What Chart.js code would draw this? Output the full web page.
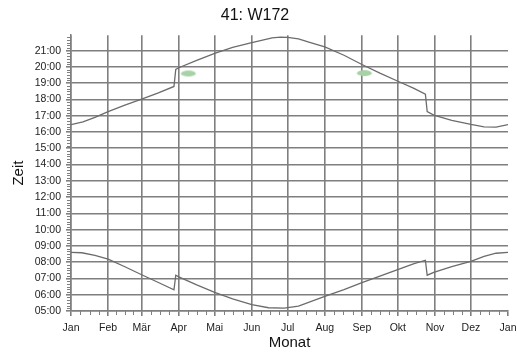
<!DOCTYPE html>
<html>
<head>
<meta charset="utf-8">
<script src="https://cdn.jsdelivr.net/npm/chart.js@4"></script>
<style>
html, body { margin: 0; padding: 0; background: #fff; }
</style>
</head>
<body>
<canvas id="sunChart" width="517" height="352"></canvas>
<script>
// month starts as day of year, with labels
const monthStarts = [0, 31, 59, 90, 120, 151, 181, 212, 243, 273, 304, 334, 365];
const monthLabels = ['Jan', 'Feb', 'Mär', 'Apr', 'Mai', 'Jun', 'Jul', 'Aug', 'Sep', 'Okt', 'Nov', 'Dez', 'Jan'];
const hourTicks = [5, 6, 7, 8, 9, 10, 11, 12, 13, 14, 15, 16, 17, 18, 19, 20, 21];

// sunset (upper curve), hours as decimals
const sunsetDays  = [0, 10, 20, 31, 45, 59, 73, 86, 87.5, 90, 105, 120, 135, 151, 160, 168, 175, 181, 190, 200, 212, 228, 243, 258, 274, 286, 296, 297.5, 303, 318, 334, 345, 355, 365];
const sunsetHours = [16.45, 16.62, 16.9, 17.25, 17.65, 18.02, 18.4, 18.8, 19.85, 19.95, 20.4, 20.83, 21.2, 21.5, 21.65, 21.78, 21.83, 21.82, 21.72, 21.5, 21.23, 20.72, 20.15, 19.62, 19.09, 18.7, 18.33, 17.25, 17.04, 16.72, 16.47, 16.32, 16.3, 16.45];

// sunrise (lower curve)
const sunriseDays  = [0, 9, 20, 31, 45, 59, 73, 86, 87.5, 90, 105, 120, 135, 151, 165, 178, 190, 212, 228, 243, 258, 274, 286, 296, 297.5, 303, 318, 334, 345, 355, 365];
const sunriseHours = [8.6, 8.58, 8.42, 8.19, 7.72, 7.23, 6.75, 6.3, 7.2, 7.1, 6.6, 6.14, 5.75, 5.39, 5.2, 5.18, 5.3, 5.9, 6.32, 6.75, 7.15, 7.58, 7.9, 8.12, 7.2, 7.37, 7.72, 8.05, 8.35, 8.55, 8.6];

// the two green blobs
const markerDays  = [98, 245];
const markerHours = [19.6, 19.62];

const gridGray = '#7f7f7f';

function toPoints(xs, ys) {
    return xs.map((d, i) => ({ x: d, y: ys[i] }));
}

// soft green ellipse used as point style
const blob = document.createElement('canvas');
blob.width = 18;
blob.height = 8;
const bctx = blob.getContext('2d');
bctx.filter = 'blur(0.7px)';
bctx.fillStyle = '#a6d2a6';
bctx.beginPath();
bctx.ellipse(9, 4, 7.5, 3, 0, 0, Math.PI * 2);
bctx.fill();

// small ticks between months and every 10 minutes
const minorTicks = {
    id: 'minorTicks',
    afterDraw(chart) {
        const { ctx, scales: { x, y } } = chart;
        ctx.save();
        ctx.strokeStyle = gridGray;
        ctx.lineWidth = 1;
        ctx.beginPath();
        for (let m = 0; m < monthStarts.length - 1; m++) {
            const a = monthStarts[m], b = monthStarts[m + 1];
            for (let k = 1; k < 4; k++) {
                const px = Math.round(x.getPixelForValue(a + (b - a) * k / 4)) + 0.5;
                ctx.moveTo(px, y.bottom);
                ctx.lineTo(px, y.bottom + 4);
            }
        }
        hourTicks.forEach(h => {
            for (let k = 1; k < 6; k++) {
                const py = Math.round(y.getPixelForValue(h + k / 6)) + 0.5;
                ctx.moveTo(x.left - 4, py);
                ctx.lineTo(x.left, py);
            }
        });
        ctx.stroke();
        ctx.restore();
    }
};

Chart.defaults.font.family = "'Liberation Sans', Arial, sans-serif";

const ctx = document.getElementById('sunChart').getContext('2d');

new Chart(ctx, {
    type: 'line',
    data: {
        datasets: [{
            data: toPoints(sunsetDays, sunsetHours),
            borderColor: '#6c6c6c',
            borderWidth: 1.3,
            pointRadius: 0,
            tension: 0
        }, {
            data: toPoints(sunriseDays, sunriseHours),
            borderColor: '#6c6c6c',
            borderWidth: 1.3,
            pointRadius: 0,
            tension: 0
        }, {
            type: 'scatter',
            data: toPoints(markerDays, markerHours),
            pointStyle: blob,
            pointRadius: 8
        }]
    },
    options: {
        responsive: false,
        animation: false,
        devicePixelRatio: 1,
        layout: { padding: { left: 0, right: 7, top: 0, bottom: 0 } },
        plugins: {
            legend: { display: false },
            tooltip: { enabled: false },
            title: {
                display: true,
                text: '41: W172',
                color: '#111',
                font: { size: 16, weight: 'normal' },
                padding: { top: 6, bottom: 10 }
            }
        },
        scales: {
            x: {
                type: 'linear',
                min: 0,
                max: 365,
                afterBuildTicks: scale => {
                    scale.ticks = monthStarts.map(v => ({ value: v }));
                },
                afterFit: scale => {
                    scale.height = 41;
                    scale.paddingRight = 7;
                },
                ticks: {
                    autoSkip: false,
                    maxRotation: 0,
                    padding: 6,
                    color: '#222',
                    font: { size: 10.5 },
                    callback: (v, i) => monthLabels[i]
                },
                grid: {
                    color: c => (c.tick && c.tick.value === 365) ? 'rgba(0,0,0,0)' : gridGray,
                    lineWidth: 1.6,
                    tickColor: gridGray,
                    tickLength: 5
                },
                border: { color: gridGray, width: 1.5 },
                title: {
                    display: true,
                    text: 'Monat',
                    color: '#111',
                    font: { size: 15 },
                    padding: { top: 0, bottom: 0 }
                }
            },
            y: {
                min: 5,
                max: 21.95,
                afterBuildTicks: scale => {
                    scale.ticks = hourTicks.map(v => ({ value: v }));
                },
                afterFit: scale => {
                    scale.width = 71;
                },
                ticks: {
                    padding: 5,
                    color: '#222',
                    font: { size: 10.5 },
                    callback: v => (v < 10 ? '0' : '') + v + ':00'
                },
                grid: {
                    color: gridGray,
                    lineWidth: 1.6,
                    tickColor: gridGray,
                    tickLength: 5
                },
                border: { color: gridGray, width: 1.5 },
                title: {
                    display: true,
                    text: 'Zeit',
                    color: '#111',
                    font: { size: 15 },
                    padding: { top: 10, bottom: 0 }
                }
            }
        }
    },
    plugins: [minorTicks]
});
</script>
</body>
</html>
